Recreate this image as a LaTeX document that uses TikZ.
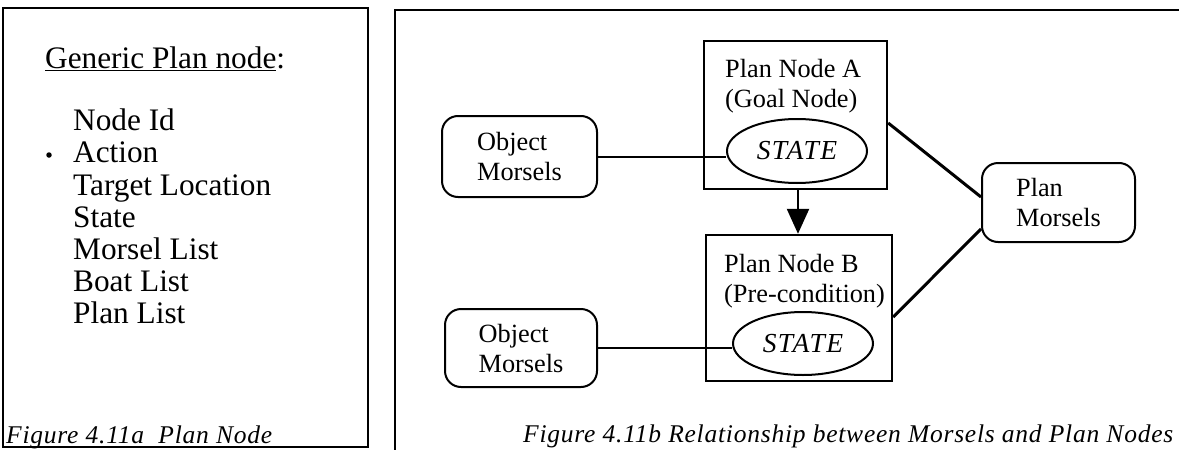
\documentclass[tikz,border=0pt]{standalone}
\usepackage{fontspec}
\setmainfont{Liberation Serif}
\usetikzlibrary{arrows.meta,calc,shapes.geometric}
% underline that sits just under the baseline
\newcommand\ulword[1]{\setbox0\hbox{#1}\rlap{\rule[-3pt]{\wd0}{1.3pt}}\box0}
\begin{document}
\begin{tikzpicture}[x=1pt,y=-1pt,
  frame/.style={line width=2.2pt},
  listtext/.style={anchor=base west,inner sep=0pt,font=\fontsize{31.3}{32}\selectfont},
  captext/.style={anchor=base west,inner sep=0pt,
    font=\fontsize{25.5}{28}\selectfont\itshape\addfontfeature{LetterSpace=3}},
  boxtext/.style={font=\fontsize{26.3}{30}\selectfont},
  planbox/.style={draw,line width=2.4pt,rectangle,inner sep=0pt},
  labeltext/.style={boxtext,anchor=base west,align=left,inner sep=0pt},
  statenode/.style={draw,line width=2pt,ellipse,inner sep=0pt,
    font=\fontsize{27.5}{30}\selectfont\itshape\addfontfeature{LetterSpace=5}},
  morsel/.style={draw,line width=2pt,rounded corners=16pt,boxtext,align=left,inner sep=0pt},
  link/.style={line width=2pt},
  planlink/.style={line width=3pt},
  depends/.style={line width=2.4pt,-{Triangle[length=25pt,width=22pt]}}
]
\useasboundingbox (0,0) rectangle (1179,450);

% ---- left panel: fields of a plan node
\draw[frame] (3,8) rectangle (368,447);
\node[listtext] (title) at (45,68) {\ulword{Generic Plan node}:};
\foreach \txt/\yy/\nm in {Node Id/130/a, Action/162.5/b, Target Location/195/c,
    State/227/d, Morsel List/259.5/e, Boat List/291.5/f, Plan List/323/g}
  \node[listtext] (item\nm) at (73,\yy) {\txt};
\node[circle,fill,inner sep=0pt,minimum size=5.5pt] (bullet) at (49,155) {};
\node[captext] (capA) at (6,443) {Figure 4.11a\ \ Plan Node};

% ---- right panel: morsels and plan nodes
\draw[frame] (395,451) -- (395,10) -- (1180,10);

% the base anchor of a two-line label is the baseline of its last line
\node[planbox,minimum width=183pt,minimum height=148pt] (boxA) at (795.5,115) {};
\node[labeltext] (labA) at (725,107) {Plan Node A\\(Goal Node)};
\node[statenode,minimum width=140pt,minimum height=64pt] (stA) at (797,151) {STATE};

\node[planbox,minimum width=186pt,minimum height=146pt] (boxB) at (799,308) {};
\node[labeltext] (labB) at (724,302) {Plan Node B\\(Pre-condition)};
\node[statenode,minimum width=140pt,minimum height=63pt] (stB) at (803,343.5) {STATE};

\node[morsel,minimum width=155pt,minimum height=81pt] (om1) at (519.5,156.5) {Object\\Morsels};
\node[morsel,minimum width=152pt,minimum height=78pt] (om2) at (521,348) {Object\\Morsels};
\node[morsel,minimum width=153pt,minimum height=79pt] (pm) at (1058.5,202.5) {Plan\\Morsels};

\draw[link] (om1.east) -- (om1.east -| stA.west);
\draw[link] (om2.east) -- (om2.east -| stB.west);
\draw[depends] ($(boxA.south)+(2.5,0)$) -- ($(boxB.north)+(-1,0)$);
\draw[planlink] ($(boxA.east)+(0,8)$) -- ($(pm.west)+(0,-5.5)$);
\draw[planlink] ($(boxB.east)+(0,9)$) -- ($(pm.west)+(0,26.5)$);

\node[captext] (capB) at (523,442) {Figure 4.11b\ Relationship between Morsels and Plan Nodes};
\end{tikzpicture}
\end{document}
